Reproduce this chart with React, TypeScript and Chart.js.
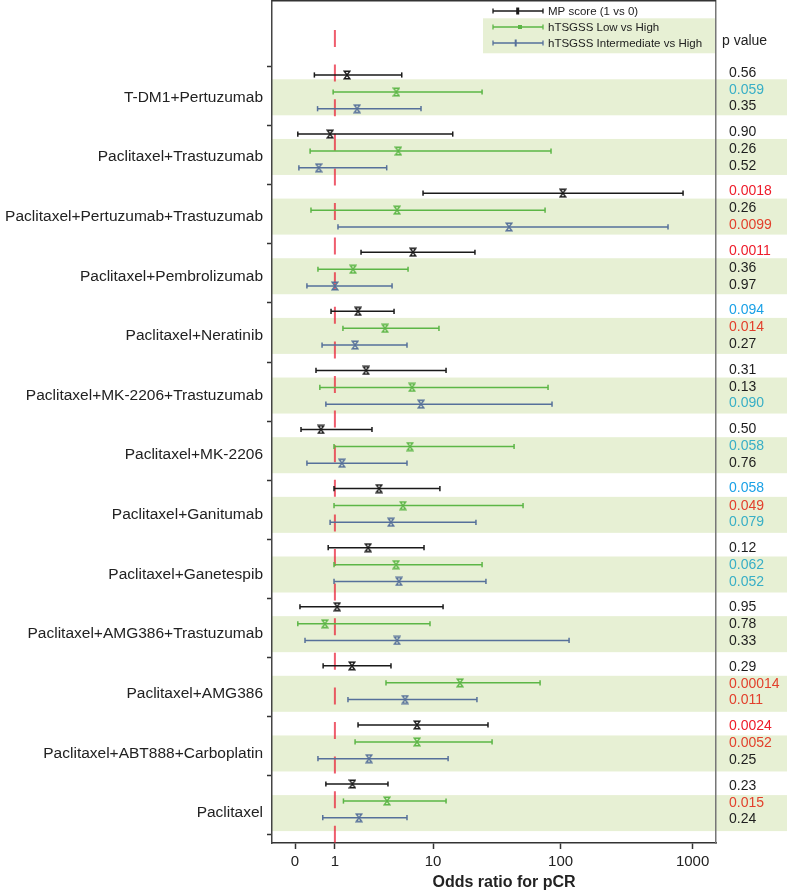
import { useEffect, useRef } from 'react';
import { Chart, registerables } from 'chart.js';

Chart.register(...registerables);

// ---------------- data ----------------
const categories = [
  'T-DM1+Pertuzumab',
  'Paclitaxel+Trastuzumab',
  'Paclitaxel+Pertuzumab+Trastuzumab',
  'Paclitaxel+Pembrolizumab',
  'Paclitaxel+Neratinib',
  'Paclitaxel+MK-2206+Trastuzumab',
  'Paclitaxel+MK-2206',
  'Paclitaxel+Ganitumab',
  'Paclitaxel+Ganetespib',
  'Paclitaxel+AMG386+Trastuzumab',
  'Paclitaxel+AMG386',
  'Paclitaxel+ABT888+Carboplatin',
  'Paclitaxel',
];

const seriesNames = ['MP score (1 vs 0)', 'hTSGSS Low vs High', 'hTSGSS Intermediate vs High'];
const xAxisTitle = 'Odds ratio for pCR';
const pHeader = 'p value';

// MP score (1 vs 0)
const mpLower = [0.40, 0.05, 8.25, 2.15, 0.87, 0.44, 0.11, 0.97, 0.78, 0.09, 0.63, 1.99, 0.71];
const mpOR = [1.47, 0.84, 104, 6.77, 1.99, 2.44, 0.57, 3.31, 2.56, 1.08, 1.69, 7.33, 1.71];
const mpUpper = [5.39, 14.5, 847, 21.8, 4.59, 12.8, 2.81, 11.4, 8.41, 12.1, 4.30, 27.6, 4.03];

// hTSGSS Low vs High
const lowLower = [0.94, 0.30, 0.32, 0.49, 1.30, 0.54, 0.97, 0.97, 0.97, 0.05, 3.86, 1.84, 1.32];
const lowOR = [4.82, 5.02, 4.89, 1.74, 3.78, 6.64, 6.38, 5.53, 4.79, 0.68, 16.6, 7.33, 3.95];
const lowUpper = [24.8, 84.5, 76.1, 6.13, 11.2, 80.2, 44.0, 51.6, 24.8, 9.44, 69.7, 29.7, 12.8];

// hTSGSS Intermediate vs High
const intLower = [0.48, 0.07, 1.11, 0.23, 0.60, 0.71, 0.23, 0.84, 0.97, 0.19, 1.51, 0.49, 0.62];
const intOR = [1.94, 0.51, 40.2, 1.00, 1.84, 7.93, 1.26, 4.30, 5.09, 4.89, 5.77, 2.62, 2.04];
const intUpper = [7.93, 3.92, 652, 4.40, 6.00, 86.0, 6.00, 22.2, 26.6, 116, 22.6, 13.3, 6.00];

const pMP = ['0.56', '0.90', '0.0018', '0.0011', '0.094', '0.31', '0.50', '0.058', '0.12', '0.95', '0.29', '0.0024', '0.23'];
const pLow = ['0.059', '0.26', '0.26', '0.36', '0.014', '0.13', '0.058', '0.049', '0.062', '0.78', '0.00014', '0.0052', '0.015'];
const pInt = ['0.35', '0.52', '0.0099', '0.97', '0.27', '0.090', '0.76', '0.079', '0.052', '0.33', '0.011', '0.25', '0.24'];

const K = '#1e1e1e';
const RED = '#ee1c2a';
const SKY = '#1ba1e6';
const TEAL = '#38afc6';
const ORG = '#e2402c';
const pMPColor = [K, K, RED, RED, SKY, K, K, SKY, K, K, K, RED, K];
const pLowColor = [TEAL, K, K, K, ORG, K, TEAL, ORG, TEAL, K, ORG, ORG, ORG];
const pIntColor = [K, K, ORG, K, K, TEAL, K, TEAL, TEAL, K, ORG, K, K];

const xTickValues = [0, 1, 10, 100, 1000];
const referenceOR = 1;

// ---------------- styling / layout ----------------
const LINE_K = '#1a1a1a';
const GREEN = '#5cb646';
const BLUE = '#56709a';
const BAND = '#e7f0d4';
const FONT = '"Liberation Sans", Arial, Helvetica, sans-serif';

const Y0 = 4.43; // first black row (row units)
const GROUP = 3.538; // spacing between groups
const ROWSTEP = [0, 1.02, 2.02];
const BAND0 = 5.766;
const BANDSTEP = 3.572;
const BANDHALF = 1.078;
const P0 = 4.293;
const PSTEP = 3.558;
const YMAX = 50.42;
const DASH_TOP = 1.737;
const X_MIN = -0.1736;
const X_MAX = 3.177;

const tr = (v: number) => Math.log10(v + 1);

const yTicks: { value: number; label: string }[] = [];
for (let i = 0; i <= categories.length; i++) yTicks.push({ value: Y0 + i * GROUP - 0.5, label: '' });
categories.forEach((c, i) => yTicks.push({ value: BAND0 + i * BANDSTEP, label: c }));
yTicks.sort((a, b) => a.value - b.value);

const pRows: { value: number; text: string; color: string }[] = [];
categories.forEach((_, i) => {
  const base = P0 + i * PSTEP;
  pRows.push({ value: base + ROWSTEP[0], text: pMP[i], color: pMPColor[i] });
  pRows.push({ value: base + ROWSTEP[1], text: pLow[i], color: pLowColor[i] });
  pRows.push({ value: base + ROWSTEP[2], text: pInt[i], color: pIntColor[i] });
});

function hourglass(color: string): HTMLCanvasElement {
  const c = document.createElement('canvas');
  c.width = 8;
  c.height = 10;
  const g = c.getContext('2d')!;
  g.strokeStyle = color;
  g.lineWidth = 1.4;
  g.beginPath();
  g.moveTo(1.2, 1.2);
  g.lineTo(6.8, 1.2);
  g.lineTo(1.2, 8.8);
  g.lineTo(6.8, 8.8);
  g.closePath();
  g.stroke();
  return c;
}

function ciData(lo: number[], hi: number[], row: number) {
  const out: { x: number | null; y: number | null }[] = [{ x: null, y: null }];
  lo.forEach((l, i) => {
    const y = Y0 + i * GROUP + ROWSTEP[row];
    out.push({ x: tr(l), y });
    out.push({ x: tr(hi[i]), y });
    out.push({ x: null, y: null });
  });
  return out;
}

function estData(est: number[], row: number) {
  return est.map((v, i) => ({ x: tr(v), y: Y0 + i * GROUP + ROWSTEP[row] }));
}

const noPad = (s: any) => {
  s.paddingTop = 0;
  s.paddingBottom = 0;
  s.paddingLeft = 0;
  s.paddingRight = 0;
};

const decor = {
  id: 'decor',
  beforeDraw(chart: any) {
    const { ctx, chartArea } = chart;
    const y = chart.scales.y;
    ctx.save();
    ctx.fillStyle = BAND;
    categories.forEach((_, i) => {
      const c = BAND0 + i * BANDSTEP;
      const t = y.getPixelForValue(c - BANDHALF);
      const b = y.getPixelForValue(c + BANDHALF);
      ctx.fillRect(chartArea.left, t, chart.width - chartArea.left, b - t);
    });
    // legend background
    const bx = chartArea.right - 233;
    const lt = y.getPixelForValue(1.036);
    const lb = y.getPixelForValue(3.13);
    ctx.fillRect(bx, lt, chartArea.right - bx, lb - lt);
    ctx.restore();
  },
  afterDraw(chart: any) {
    const { ctx, chartArea } = chart;
    const y = chart.scales.y;
    ctx.save();
    // top frame line
    ctx.strokeStyle = '#333';
    ctx.lineWidth = 1.5;
    ctx.beginPath();
    ctx.moveTo(chartArea.left, chartArea.top - 0.25);
    ctx.lineTo(chartArea.right, chartArea.top - 0.25);
    ctx.stroke();

    // legend
    const bx = chartArea.right - 233;
    const rows = [0.6, 1.557, 2.515];
    const colors = [LINE_K, GREEN, BLUE];
    const mx = [34.7, 37, 32.7];
    seriesNames.forEach((name, i) => {
      const py = y.getPixelForValue(rows[i]);
      const x1 = bx + 10;
      const x2 = bx + 60;
      ctx.strokeStyle = colors[i];
      ctx.lineWidth = 1.3;
      ctx.beginPath();
      ctx.moveTo(x1, py);
      ctx.lineTo(x2, py);
      ctx.moveTo(x1, py - 2.5);
      ctx.lineTo(x1, py + 2.5);
      ctx.moveTo(x2, py - 2.5);
      ctx.lineTo(x2, py + 2.5);
      ctx.stroke();
      ctx.fillStyle = colors[i];
      if (i === 0) ctx.fillRect(bx + mx[i] - 1.5, py - 3.5, 3, 7);
      else if (i === 1) ctx.fillRect(bx + mx[i] - 2, py - 2, 4, 4);
      else ctx.fillRect(bx + mx[i] - 1, py - 3.5, 2, 7);
      ctx.fillStyle = '#222';
      ctx.font = `11.5px ${FONT}`;
      ctx.textAlign = 'left';
      ctx.textBaseline = 'middle';
      ctx.fillText(name, bx + 65, py + 0.5);
    });

    // p value header
    ctx.fillStyle = '#222';
    ctx.font = `14px ${FONT}`;
    ctx.textAlign = 'left';
    ctx.textBaseline = 'middle';
    ctx.fillText(pHeader, chartArea.right + 6, y.getPixelForValue(2.395));

    // x axis title
    ctx.font = `bold 16px ${FONT}`;
    ctx.textAlign = 'center';
    ctx.fillText(xAxisTitle, (chartArea.left + chartArea.right) / 2 + 10, chartArea.bottom + 40);
    ctx.restore();
  },
};

export default function App() {
  const ref = useRef<HTMLCanvasElement | null>(null);

  useEffect(() => {
    if (!ref.current) return;
    Chart.defaults.font.family = FONT;

    const hgK = hourglass(LINE_K);
    const hgG = hourglass(GREEN);
    const hgB = hourglass(BLUE);

    const ciCommon = {
      type: 'line' as const,
      borderWidth: 1.5,
      pointStyle: 'line' as const,
      pointRotation: 90,
      pointRadius: (c: any) => (c.raw && c.raw.x != null ? 2.6 : 0),
      pointBorderWidth: 1.5,
      spanGaps: false,
      fill: false,
      order: 1,
    };
    const estCommon = {
      type: 'line' as const,
      showLine: false,
      pointRadius: 0.5,
      pointBorderWidth: 0,
      borderWidth: 1,
      order: 0,
    };

    const chart = new Chart(ref.current, {
      type: 'line',
      data: {
        datasets: [
          { ...estCommon, label: seriesNames[0] + ' OR', data: estData(mpOR, 0), pointStyle: hgK as any },
          { ...estCommon, label: seriesNames[1] + ' OR', data: estData(lowOR, 1), pointStyle: hgG as any },
          { ...estCommon, label: seriesNames[2] + ' OR', data: estData(intOR, 2), pointStyle: hgB as any },
          { ...ciCommon, label: seriesNames[0], data: ciData(mpLower, mpUpper, 0), borderColor: LINE_K, pointBorderColor: LINE_K },
          { ...ciCommon, label: seriesNames[1], data: ciData(lowLower, lowUpper, 1), borderColor: GREEN, pointBorderColor: GREEN },
          { ...ciCommon, label: seriesNames[2], data: ciData(intLower, intUpper, 2), borderColor: BLUE, pointBorderColor: BLUE },
          {
            type: 'line',
            label: 'OR = 1',
            data: [
              { x: tr(referenceOR), y: DASH_TOP },
              { x: tr(referenceOR), y: YMAX },
            ],
            borderColor: 'rgba(233,30,52,0.72)',
            borderWidth: 2,
            borderDash: [17, 17.6],
            pointRadius: 0,
            order: 2,
          },
        ] as any,
      },
      options: {
        responsive: false,
        animation: false,
        events: [],
        layout: { autoPadding: false, padding: { top: 1, left: 0, right: 0, bottom: 0 } },
        plugins: { legend: { display: false }, tooltip: { enabled: false }, title: { display: false } },
        scales: {
          x: {
            type: 'linear',
            min: X_MIN,
            max: X_MAX,
            afterBuildTicks: (s: any) => {
              s.ticks = xTickValues.map((v) => ({ value: tr(v) }));
            },
            afterFit: (s: any) => {
              s.height = 51;
              noPad(s);
            },
            ticks: {
              autoSkip: false,
              maxRotation: 0,
              callback: (_v: any, i: number) => String(xTickValues[i]),
              font: { size: 15 },
              color: '#222',
              padding: 4,
            },
            grid: { drawOnChartArea: false, tickLength: 6, tickColor: '#333', tickWidth: 1.5 },
            border: { color: '#333', width: 1.5 },
          },
          y: {
            type: 'linear',
            position: 'left',
            min: 0,
            max: YMAX,
            reverse: true,
            afterBuildTicks: (s: any) => {
              s.ticks = yTicks.map((t) => ({ value: t.value }));
            },
            afterFit: (s: any) => {
              s.width = 272;
              noPad(s);
            },
            ticks: {
              autoSkip: false,
              callback: (_v: any, i: number) => yTicks[i].label,
              font: { size: 15.5 },
              color: '#222',
              padding: 4,
            },
            grid: {
              drawOnChartArea: false,
              tickLength: 5,
              tickWidth: 1.5,
              tickColor: (ctx: any) => (yTicks[ctx.index] && yTicks[ctx.index].label === '' ? '#333' : 'rgba(0,0,0,0)'),
            },
            border: { color: '#444', width: 1.5 },
          },
          p: {
            type: 'linear',
            position: 'right',
            min: 0,
            max: YMAX,
            reverse: true,
            afterBuildTicks: (s: any) => {
              s.ticks = pRows.map((r) => ({ value: r.value }));
            },
            afterFit: (s: any) => {
              s.width = 71;
              noPad(s);
            },
            ticks: {
              autoSkip: false,
              callback: (_v: any, i: number) => pRows[i].text,
              color: (ctx: any) => (pRows[ctx.index] ? pRows[ctx.index].color : K),
              font: { size: 14 },
              padding: 13,
            },
            grid: { display: false, drawTicks: false },
            border: { color: '#777', width: 1.5 },
          },
        },
      } as any,
      plugins: [decor],
    });

    return () => chart.destroy();
  }, []);

  return (
    <div style={{ position: 'absolute', left: 0, top: 0, width: 787, height: 894, background: '#fff' }}>
      <canvas ref={ref} width={787} height={894} style={{ display: 'block', width: 787, height: 894 }} />
    </div>
  );
}
